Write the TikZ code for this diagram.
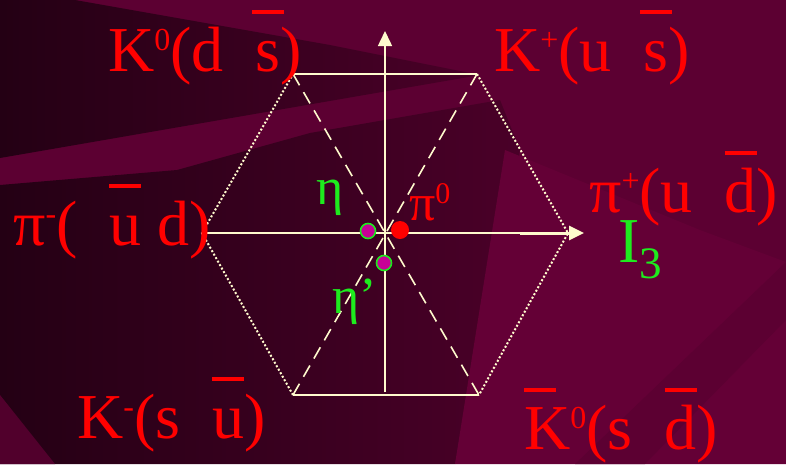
\documentclass[tikz,border=0pt]{standalone}
\usepackage{fontspec}
\setmainfont{Liberation Serif}
\usetikzlibrary{arrows.meta}

\definecolor{bgmain}{RGB}{92,0,50}
\definecolor{bgmid}{RGB}{74,0,40}
\definecolor{bgdark}{RGB}{52,0,30}
\definecolor{bgdeep}{RGB}{36,0,20}
\definecolor{bglight}{RGB}{100,0,54}
\definecolor{cream}{RGB}{255,250,205}
\definecolor{quarkgreen}{RGB}{30,235,30}
\definecolor{dotfill}{RGB}{200,0,150}

\newcommand{\qbar}[2][\hidewidth]{\ooalign{#2\cr#1\rule[0.89em]{0.5em}{0.065em}\hidewidth\cr}}
\newcommand{\upidx}[1]{\raisebox{21pt}{\fontsize{32}{32}\selectfont #1}}
\newcommand{\lowidx}[1]{\raisebox{-16pt}{\fontsize{45}{45}\selectfont #1}}

\begin{document}
\begin{tikzpicture}[x=1pt, y=-1pt,
    lbl/.style={text=red, inner sep=0pt, anchor=base west, font=\fontsize{64}{64}\selectfont},
    glbl/.style={lbl, text=quarkgreen},
    smalllbl/.style={font=\fontsize{52}{52}\selectfont},
    axisline/.style={draw=cream, line width=1.5pt},
    axisarrow/.style={-{Triangle[length=15pt,width=14pt]}},
    rimdots/.style={draw=cream, line width=2pt, dash pattern=on 2pt off 2pt},
    rimsolid/.style={draw=cream, line width=2.6pt},
    diag/.style={draw=cream, line width=1.6pt, dash pattern=on 13pt off 8pt},
    mesondot/.style={circle, inner sep=0pt, minimum size=15pt, fill=dotfill, draw=quarkgreen, line width=1.6pt},
    reddot/.style={circle, inner sep=0pt, minimum size=18pt, fill=red}
]
\useasboundingbox (0,0) rectangle (786,464);
\fill[bgmain] (0,0) rectangle (786,464);
\shade[left color=bgdeep, right color=bgmid] (0,0) -- (75,0) -- (330,45) -- (480,75) -- (0,158) -- cycle;
\shade[left color=bgdeep, right color=bgmid] (0,185) -- (177,170) -- (310,133) -- (500,100) -- (520,150) -- (455,464) -- (0,464) -- cycle;
\fill[bgmain!80!bgdeep] (0,395) -- (55,464) -- (0,464) -- cycle;
\fill[bglight] (505,150) -- (700,230) -- (786,262) -- (786,464) -- (455,464) -- cycle;
\fill[bgmain] (575,464) -- (645,464) -- (786,320) -- (786,262) -- cycle;

\coordinate (tl) at (293,74);
\coordinate (tr) at (477,74);
\coordinate (rv) at (568,233);
\coordinate (br) at (479,395);
\coordinate (bl) at (293,395);
\coordinate (lv) at (202,233);
\coordinate (ytop) at (385,31);
\coordinate (ybot) at (385,392);
\coordinate (xend) at (584,233);
\coordinate (xmid) at (520,233);

\draw[rimdots] (tr) -- (rv) -- (br);
\draw[rimdots] (bl) -- (lv) -- (tl);
\draw[rimsolid] (tl) -- (tr);
\draw[rimsolid] (bl) -- (br);
\draw[diag] (tl) -- (br);
\draw[diag] (tr) -- (bl);
\draw[axisline, axisarrow] (ybot) -- (ytop);
\draw[axisline] (lv) -- (xmid);
\draw[axisline, line width=3pt, axisarrow] (xmid) -- (xend);

\node[mesondot] (eta) at (368,231) {};
\node[reddot] (pizero) at (400,230) {};
\node[mesondot] (etap) at (384,263) {};

\node[lbl] (kzero) at (108,71) {K\upidx{0}(d\hspace{.5em}\qbar{s})};
\node[lbl] (kplus) at (494,71) {K\upidx{+}(u\hspace{.5em}\qbar{s})};
\node[lbl] (piplus) at (589,212) {π\upidx{+}(u\hspace{.5em}\qbar{d})};
\node[lbl] (piminus) at (13,245) {π\upidx{-}(\hspace{.5em}\qbar{u} d)};
\node[lbl] (kminus) at (77,438) {K\upidx{-}(s\hspace{.5em}\qbar{u})};
\node[lbl] (kzerobar) at (524,449) {\qbar[]{K}\upidx{0}(s\hspace{.5em}\qbar{d})};
\node[glbl] (isospin) at (618,262) {I\lowidx{3}};
\node[glbl, smalllbl] (etalbl) at (316,204) {η};
\node[glbl, smalllbl] (etaplbl) at (332,313) {η’};
\node[lbl, smalllbl] (pizerolbl) at (409,220) {π\raisebox{17pt}{\fontsize{30}{30}\selectfont 0}};
\end{tikzpicture}
\end{document}
